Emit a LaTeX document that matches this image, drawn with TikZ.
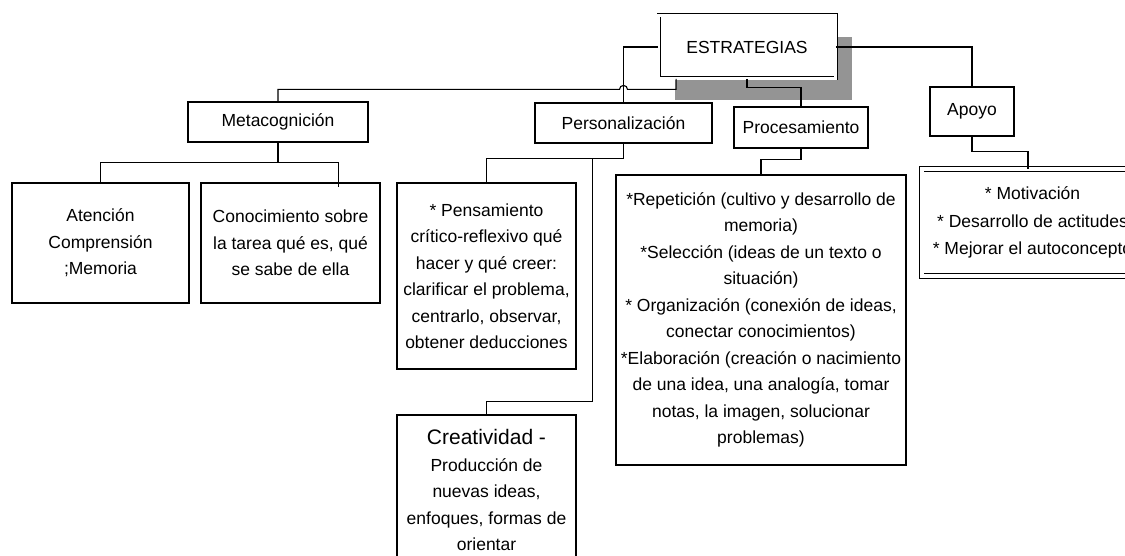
\documentclass[tikz,border=0pt]{standalone}
\usepackage{fontspec}
\setmainfont{Liberation Sans}
\usetikzlibrary{shadows}

\begin{document}
\begin{tikzpicture}[x=1pt,y=-1pt,line width=1.1pt,font=\fontsize{17.5}{26.5}\selectfont,
  box/.style={draw,line width=1.2pt,inner sep=0pt,align=center},
  dbox/.style={box,double,line width=0.9pt,fill=white}]
  \useasboundingbox (0,0) rectangle (1125,556);
  \clip (0,0) rectangle (1125,556);
  % raiz
  \node[dbox,double distance=2.2pt,minimum width=177pt,minimum height=63pt,
    drop shadow={shadow xshift=16pt,shadow yshift=-22pt,fill=black!42,opacity=1}] (estr) at (747,47) {ESTRATEGIAS};
  % primer nivel
  \node[box,minimum width=180pt,minimum height=40pt] (meta) at (278,122) {Metacognición};
  \node[box,minimum width=177pt,minimum height=40pt] (pers) at (623.5,123) {Personalización};
  \node[box,minimum width=134pt,minimum height=41pt] (proc) at (801,127.5) {Procesamiento};
  \node[box,minimum width=84pt,minimum height=49pt] (apoyo) at (972,111.5) {Apoyo};
  % segundo nivel
  \node[box,minimum width=177pt,minimum height=120pt] (atenc) at (100.5,243) {Atención\\Comprensión\\;Memoria};
  \node[box,minimum width=179pt,minimum height=120pt] (conoc) at (290.5,243) {Conocimiento sobre\\la tarea qué es, qué\\se sabe de ella};
  \node[box,minimum width=179pt,minimum height=186pt] (pensa) at (486.5,276) {* Pensamiento\\crítico-reflexivo qué\\hacer y qué creer:\\clarificar el problema,\\centrarlo, observar,\\obtener deducciones};
  \node[box,minimum width=179pt,minimum height=150pt] (creat) at (486.5,490) {{\fontsize{21}{26.5}\selectfont Creatividad -}\\Producción de\\nuevas ideas,\\enfoques, formas de\\orientar};
  \node[box,minimum width=290pt,minimum height=290pt] (repet) at (761,320) {*Repetición (cultivo y desarrollo de\\memoria)\\*Selección (ideas de un texto o\\situación)\\* Organización (conexión de ideas,\\conectar conocimientos)\\*Elaboración (creación o nacimiento\\de una idea, una analogía, tomar\\notas, la imagen, solucionar\\problemas)};
  \node[dbox,double distance=4pt,minimum width=222pt,minimum height=107pt,font=\fontsize{17.5}{27.5}\selectfont] (motiv) at (1032.5,222.5) {* Motivación\\* Desarrollo de actitudes\\* Mejorar el autoconcepto};
  % conectores
  \draw (estr.west) -| (pers.north);
  \draw ([xshift=18pt]estr.south west) |- ([xshift=4pt,yshift=13pt]pers.north)
    arc[start angle=0,end angle=180,radius=4pt] -| (meta.north);
  \draw (estr.south) -- ++(0,9) -| (proc.north);
  \draw (estr.east) -| (apoyo.north);
  \draw (meta.south) -- ++(0,20) coordinate (mfork) -| (atenc.north);
  \draw (mfork) -| ([xshift=48pt,yshift=-5pt]conoc.north);
  \draw (pers.south) -- ++(0,15) -| (pensa.north);
  \draw ([xshift=-31pt,yshift=-15pt]pers.south) |- ([yshift=13pt]creat.north) -- (creat.north);
  \draw (proc.south) -- ++(0,11) -| (repet.north);
  \draw (apoyo.south) -- ++(0,15) -| ([xshift=-4.5pt]motiv.north);
\end{tikzpicture}
\end{document}
